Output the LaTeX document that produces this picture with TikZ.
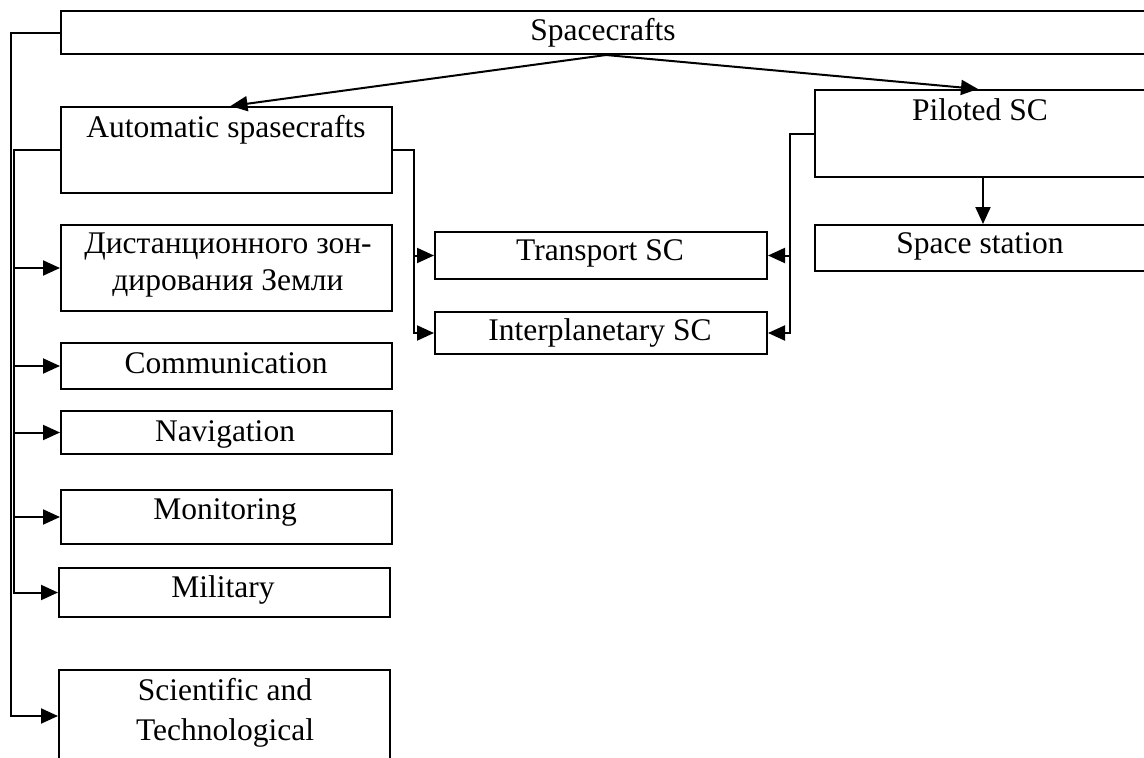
\documentclass[tikz,border=0pt]{standalone}
\usepackage{fontspec}
\setmainfont{Liberation Serif}
\usetikzlibrary{arrows.meta}
\begin{document}
\begin{tikzpicture}[x=1pt,y=-1pt, line width=2pt,
 box/.style={draw, rectangle, inner sep=0pt, anchor=north west},
 lbl/.style={anchor=base, inner sep=0pt, font=\fontsize{31.5}{38}\selectfont},
 arr/.style={-{Triangle[length=17pt,width=15pt]}}]
\useasboundingbox (0,0) rectangle (1144,758);
\clip (0,0) rectangle (1144,758);
% boxes
\node[box, minimum width=1090, minimum height=43] (sc) at (60,10) {};
\node[box, minimum width=331, minimum height=86] (auto) at (60,106) {};
\node[box, minimum width=336, minimum height=87] (pil) at (814,89) {};
\node[box, minimum width=336, minimum height=46] (stat) at (814,224) {};
\node[box, minimum width=332, minimum height=47] (trans) at (434,231) {};
\node[box, minimum width=332, minimum height=42] (inter) at (434,311) {};
\node[box, minimum width=331, minimum height=86] (dist) at (60,224) {};
\node[box, minimum width=331, minimum height=46] (comm) at (60,342) {};
\node[box, minimum width=331, minimum height=43] (nav) at (60,410) {};
\node[box, minimum width=331, minimum height=54] (mon) at (60,489) {};
\node[box, minimum width=331, minimum height=49] (mil) at (58,567) {};
\node[box, minimum width=331, minimum height=92] (sci) at (58,669) {};
% labels
\node[lbl] (tsc) at (603,40) {Spacecrafts};
\node[lbl] (tauto) at (226,137) {Automatic spasecrafts};
\node[lbl] (tpil) at (980,120) {Piloted SC};
\node[lbl] (tstat) at (980,253) {Space station};
\node[lbl] (ttrans) at (600,260) {Transport SC};
\node[lbl] (tinter) at (600,340) {Interplanetary SC};
\node[lbl] (tdista) at (228,253) {Дистанционного зон-};
\node[lbl] (tdistb) at (228,290) {дирования Земли};
\node[lbl] (tcomm) at (226,373) {Communication};
\node[lbl] (tnav) at (225,441) {Navigation};
\node[lbl] (tmon) at (225,519) {Monitoring};
\node[lbl] (tmil) at (223,597) {Military};
\node[lbl] (tscia) at (225,700) {Scientific and};
\node[lbl] (tscib) at (225,740) {Technological};
% connectors
\draw[arr] (sc.south) -- ([xshift=4pt]auto.north);
\draw[arr] (sc.south) -- ([xshift=-5pt]pil.north);
\draw[arr] (pil.south) -- (stat.north);
\draw[arr] (pil.west) -- ++(-24,0) |- (trans.east);
\draw[arr] (pil.west) -- ++(-24,0) |- (inter.east);
\draw[arr] (auto.east) -- ++(21,0) |- (trans.west);
\draw[arr] (auto.east) -- ++(21,0) |- (inter.west);
\draw[arr] (sc.west) -- ++(-49,0) |- (sci.west);
\foreach \n in {dist,comm,nav,mon,mil} \draw[arr] (auto.west) -- ++(-46.5,0) |- (\n.west);
\end{tikzpicture}
\end{document}
